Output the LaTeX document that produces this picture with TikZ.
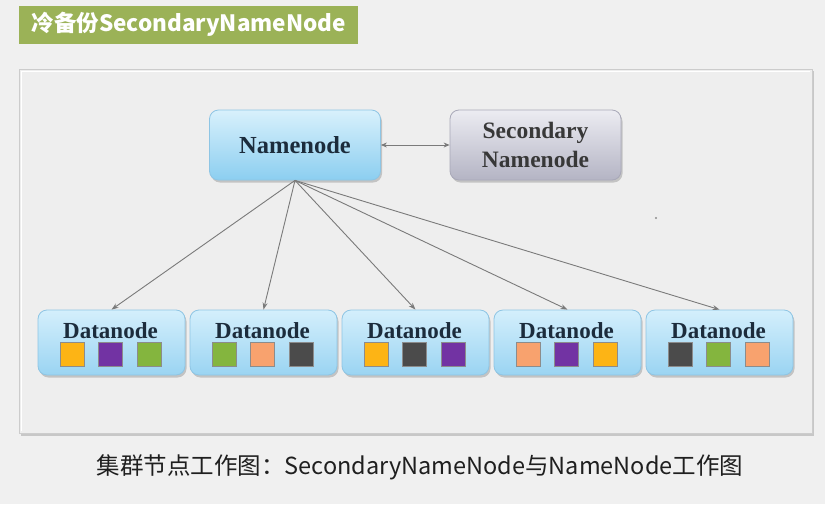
\documentclass[tikz,border=0pt]{standalone}
\usepackage{fontspec}
\setmainfont{Liberation Serif}
\newfontfamily\cjk{Noto Sans CJK SC}
\usetikzlibrary{arrows.meta,shadows}
\definecolor{bgc}{HTML}{F0F0F0}
\definecolor{panelc}{HTML}{EEEEEE}
\definecolor{titlec}{HTML}{9BB257}
\definecolor{nntop}{HTML}{D8F1FC}
\definecolor{nnbot}{HTML}{8CCEF0}
\definecolor{nnline}{HTML}{8EC5E4}
\definecolor{sntop}{HTML}{ECECF2}
\definecolor{snbot}{HTML}{B4B4C4}
\definecolor{snline}{HTML}{A8A8B8}
\definecolor{dntop}{HTML}{D4EFFC}
\definecolor{dnbot}{HTML}{9AD4F2}
\definecolor{cor}{HTML}{FDB415}
\definecolor{cpu}{HTML}{7233A3}
\definecolor{cgr}{HTML}{84B53E}
\definecolor{cdk}{HTML}{4B4B4B}
\definecolor{csa}{HTML}{F8A26E}
\definecolor{txtc}{HTML}{1C2C3C}
\definecolor{arrc}{HTML}{7A7A7A}
\tikzset{
  shad/.style={drop shadow={shadow xshift=1.5pt, shadow yshift=-2.5pt, fill=black, opacity=0.18}},
  nnbox/.style={rounded corners=9pt, draw=nnline, line width=0.8pt, top color=nntop, bottom color=nnbot,
    minimum width=171pt, minimum height=70pt, shad},
  snbox/.style={rounded corners=9pt, draw=snline, line width=0.8pt, top color=sntop, bottom color=snbot,
    minimum width=171pt, minimum height=70pt, shad},
  dnbox/.style={rounded corners=9pt, draw=nnline, line width=0.8pt, top color=dntop, bottom color=dnbot,
    minimum width=147pt, minimum height=65pt, shad},
  bigtxt/.style={font=\fontsize{24.5}{26}\selectfont\bfseries, text=txtc},
  sectxt/.style={font=\fontsize{23.5}{29}\selectfont\bfseries, text=black!78, align=center},
  dntxt/.style={font=\fontsize{23}{24}\selectfont\bfseries, text=txtc},
  blk/.style={minimum size=24pt, inner sep=0pt, draw=black!45, line width=0.7pt, fill=#1},
  conn/.style={draw=arrc, line width=0.9pt, -{Stealth[length=7pt,width=5pt]}},
}
\begin{document}
\begin{tikzpicture}[x=1pt,y=-1pt]
\useasboundingbox (0,0) rectangle (825,504);
\fill[bgc] (0,0) rectangle (825,504);
% title
\node[fill=titlec, minimum width=339pt, minimum height=38pt, inner sep=0pt] (title) at (188.5,25) {};
\node[font=\cjk\bfseries\fontsize{22.5}{24}\selectfont, text=white, anchor=west] (titletxt) at (28,24) {冷备份SecondaryNameNode};
% panel
\fill[black!22] (21,71) rectangle (814,436);
\filldraw[fill=panelc, draw=black!20, line width=0.8pt] (19,69) rectangle (812,433);
\draw[white, line width=1.6pt] (21,71.5) -- (810,71.5);
\draw[white, line width=1.2pt] (21.5,72) -- (21.5,431);
% nodes
\node[nnbox] (nn) at (295,145) {};
\node[bigtxt] (nntxt) at (nn.center) {Namenode};
\node[snbox] (sn) at (535.5,145) {};
\node[sectxt] (sntxt) at (sn.center) {Secondary\\Namenode};
\draw[draw=arrc, line width=0.8pt, {Stealth[length=6pt,width=5pt]}-{Stealth[length=6pt,width=5pt]}] (nn.east) -- (sn.west);
% datanodes
\foreach \i/\cx/\a/\b/\c in {1/111.5/cor/cpu/cgr, 2/263.5/cgr/csa/cdk, 3/415.5/cor/cdk/cpu, 4/567.5/csa/cpu/cor, 5/719.5/cdk/cgr/csa}{
  \node[dnbox] (dn\i) at (\cx,342.5) {};
  \node[dntxt] (dt\i) at (\cx-1,331) {Datanode};
  \node[blk=\a] (sa\i) at (\cx-39.5,354.5) {};
  \node[blk=\b] (sb\i) at (\cx-1,354.5) {};
  \node[blk=\c] (sc\i) at (\cx+37.5,354.5) {};
  \draw[conn] (nn.south) -- (dn\i.north);
}
\fill[black!45] (656,218) circle (1.1pt);
% caption
\node[font=\cjk\fontsize{23.5}{26}\selectfont, text=black!88] (cap) at (420,467) {集群节点工作图：SecondaryNameNode与NameNode工作图};
\end{tikzpicture}
\end{document}
